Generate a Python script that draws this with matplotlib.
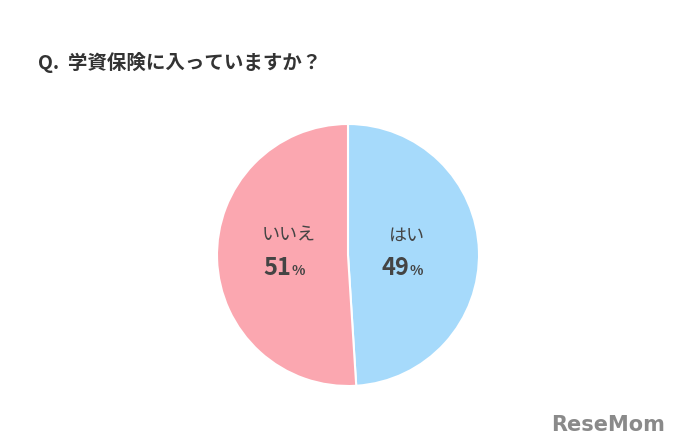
import matplotlib.pyplot as plt

plt.rcParams['font.family'] = ['Noto Sans CJK JP', 'DejaVu Sans']

labels = ["はい", "いいえ"]
values = [49, 51]
colors = ["#A6DAFB", "#FBA7B0"]

W, H = 680, 448
fig = plt.figure(figsize=(W / 100, H / 100), dpi=100)
fig.patch.set_facecolor("white")

cx, cy, r = 348, 255, 131
ax = fig.add_axes([(cx - r) / W, 1 - (cy + r) / H, 2 * r / W, 2 * r / H])
wedges, _ = ax.pie(values, colors=colors, startangle=90, counterclock=False,
                   radius=1.0, wedgeprops=dict(edgecolor="white", linewidth=1.5))
ax.set_xlim(-1, 1)
ax.set_ylim(-1, 1)
ax.set_aspect("equal")
ax.axis("off")

# labels inside each slice
pos = [(0.45, 0.0), (-0.45, 0.0)]
for (x, y), lab, v in zip(pos, labels, values):
    ax.text(x, y + 0.15, lab, ha="center", va="center", fontsize=13, color="#444444")
    ax.text(x + 0.02, y - 0.1, f"{v}", ha="right", va="center", fontsize=17,
            fontweight="bold", color="#444444")
    ax.text(x + 0.02, y - 0.12, "%", ha="left", va="center", fontsize=10,
            fontweight="bold", color="#444444")

fig.text(38 / W, 1 - 62 / H, "Q.  学資保険に入っていますか？", ha="left", va="center",
         fontsize=14, fontweight="bold", color="#333333")

fig.text(665 / W, 1 - 425 / H, "ReseMom", ha="right", va="center", fontsize=15,
         fontweight="bold", color="#8a8a8a", family="DejaVu Sans")

fig.savefig("out.png", dpi=100)
